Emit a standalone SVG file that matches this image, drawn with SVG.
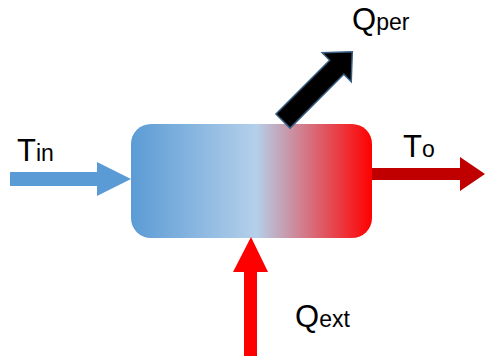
<svg xmlns="http://www.w3.org/2000/svg" width="486" height="360" viewBox="0 0 486 360">
<defs>
<linearGradient id="g" x1="0" y1="0" x2="1" y2="0">
<stop offset="0" stop-color="#5b9bd5"/>
<stop offset="0.52" stop-color="#b4d0ea"/>
<stop offset="1" stop-color="#ff0000"/>
</linearGradient>
<style>
text{font-family:"Liberation Sans",Arial,sans-serif;fill:#000}
.big{font-size:31px}
.sub{font-size:23px}
</style>
</defs>
<rect width="486" height="360" fill="#fff"/>
<g id="box">
<rect x="131" y="124" width="241" height="114" rx="20" ry="20" fill="url(#g)"/>
</g>
<g id="connectors">
<polygon points="10,172 97,172 97,162 131,179 97,196 97,186 10,186" fill="#5b9bd5"/>
<polygon points="372,168 460,168 460,157 485,174 460,191 460,180 372,180" fill="#c00000"/>
<polygon points="244,356 244,272 233,272 251,237 268,272 257,272 257,356" fill="#ff0000"/>
<g transform="translate(283,121) rotate(-45)">
<polygon points="0,-10 76,-10 76,-20.5 98,0 76,20.5 76,10 0,10" fill="#000" stroke="#3a5f85" stroke-width="1.5" stroke-linejoin="miter"/>
</g>
</g>
<g id="label-tin"><text x="17" y="161"><tspan class="big">T</tspan><tspan class="sub">in</tspan></text></g>
<g id="label-qper"><text x="352" y="30"><tspan class="big">Q</tspan><tspan class="sub">per</tspan></text></g>
<g id="label-to"><text x="403" y="157"><tspan class="big">T</tspan><tspan class="sub">o</tspan></text></g>
<g id="label-qext"><text x="295" y="327"><tspan class="big">Q</tspan><tspan class="sub">ext</tspan></text></g>
</svg>
